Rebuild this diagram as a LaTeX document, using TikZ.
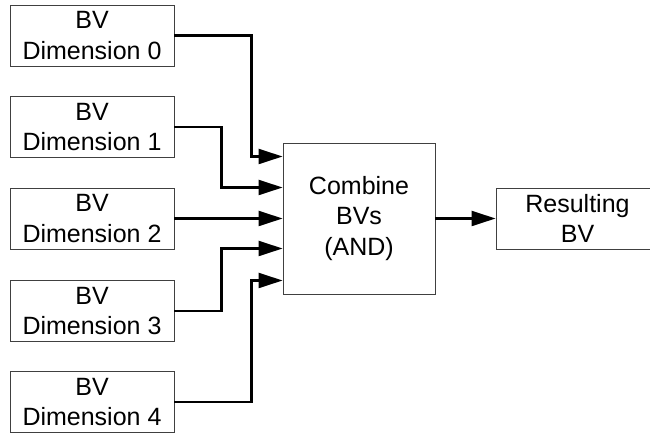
\documentclass[tikz,border=0pt]{standalone}
\usepackage{fontspec}
\setmainfont{Liberation Sans}
\usetikzlibrary{arrows.meta,calc}
\tikzset{
  block/.style={draw=black!75, line width=0.9pt, fill=white, align=center,
    font=\fontsize{25}{30.5}\selectfont, inner sep=0pt},
  dimbox/.style={block, minimum width=164pt, minimum height=61pt},
  flow/.style={line width=2.2pt, -{Triangle[length=24pt,width=15pt]}},
}
\begin{document}
\begin{tikzpicture}[x=1pt,y=1pt]
\useasboundingbox (0,0) rectangle (650,433);
\fill[white] (0,0) rectangle (650,433);
\begin{scope}
\clip (0,0) rectangle (650,433);

% input bit vectors
\node[dimbox] (b0) at (92,397.5) {BV\\Dimension 0};
\node[dimbox] (b1) at (92,306)   {BV\\Dimension 1};
\node[dimbox] (b2) at (92,214.5) {BV\\Dimension 2};
\node[dimbox] (b3) at (92,122)   {BV\\Dimension 3};
\node[dimbox] (b4) at (92,31)    {BV\\Dimension 4};

% combining stage and result
\node[block, minimum width=152pt, minimum height=151pt] (cmb) at (359,214.5) {Combine\\BVs\\(AND)};
\node[block, minimum width=163pt, minimum height=61pt] (res) at (577.5,214.5) {Resulting\\BV};

% entry points on the combining block
\coordinate (t0) at ($(cmb.west)+(0,62)$);
\coordinate (t1) at ($(cmb.west)+(0,31)$);
\coordinate (t3) at ($(cmb.west)+(0,-30)$);
\coordinate (t4) at ($(cmb.west)+(0,-62)$);

% connectors
\draw[flow] (b0.east) -| ($(t0)+(-31,0)$) -- (t0);
\draw[flow] (b1.east) -| ($(t1)+(-61,0)$) -- (t1);
\draw[flow] (b2.east) -- (cmb.west);
\draw[flow] (b3.east) -| ($(t3)+(-61,0)$) -- (t3);
\draw[flow] (b4.east) -| ($(t4)+(-31,0)$) -- (t4);
\draw[flow] (cmb.east) -- (res.west);
\end{scope}
\end{tikzpicture}
\end{document}
